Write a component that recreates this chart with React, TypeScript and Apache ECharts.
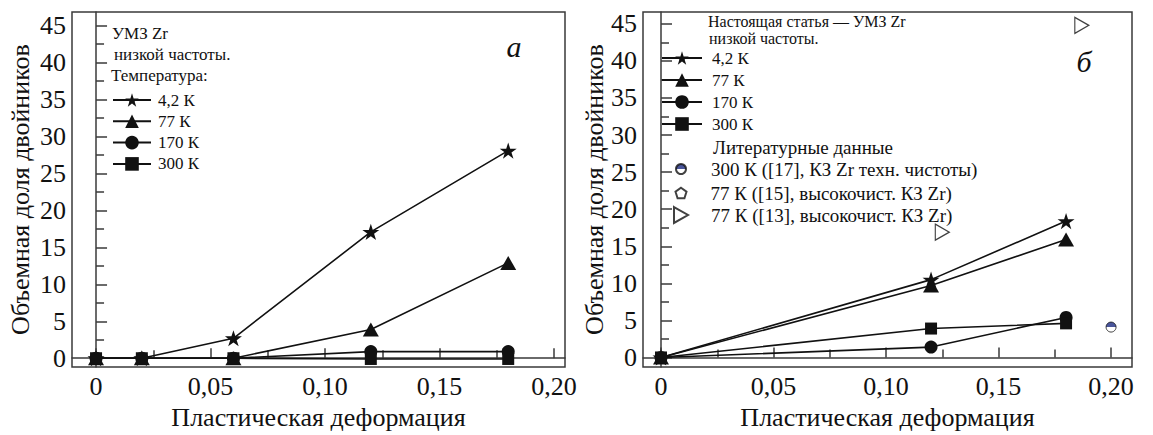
import React, { useEffect, useRef } from "react";
import * as echarts from "echarts";

// ---------- data ----------
const xTicks = [0, 0.05, 0.1, 0.15, 0.2];
const xMinorTicks = [0.025, 0.075, 0.125, 0.175];
const yTicks = [0, 5, 10, 15, 20, 25, 30, 35, 40, 45];
const yMinorTicks = [2.5, 7.5, 12.5, 17.5, 22.5, 27.5, 32.5, 37.5, 42.5];

const tempNames = ["4,2 К", "77 К", "170 К", "300 К"];

// panel a
const strainA = [0, 0.02, 0.06, 0.12, 0.18];
const a42 = [0, 0, 2.7, 17.1, 28.1];
const a77 = [0, 0, 0, 3.9, 12.9];
const a170 = [0, 0, 0, 0.9, 0.9];
const a300 = [0, 0, 0, -0.1, -0.1];

// panel б
const strainB = [0, 0.12, 0.18];
const b42 = [0, 10.5, 18.4];
const b77 = [0, 9.7, 15.9];
const b170 = [0, 1.4, 5.4];
const b300 = [0, 3.9, 4.6];

// literature data (panel б)
const litNames = [
  "300 К ([17], КЗ Zr техн. чистоты)",
  "77 К ([15], высокочист. КЗ Zr)",
  "77 К ([13], высокочист. КЗ Zr)",
];
const lit17X = [0.2];
const lit17Y = [4.1];
const lit15X: number[] = [];
const lit15Y: number[] = [];
const lit13X = [0.125, 0.187];
const lit13Y = [16.9, 44.8];

// ---------- styles ----------
const FONT = "'Liberation Serif', 'Times New Roman', serif";
const INK = "#111";
const FRAME = "#3a3a3a";

const STAR =
  "path://M50,2 L61.2,36.6 L97.6,36.6 L68.2,58 L79.4,92.6 L50,71.2 L20.6,92.6 L31.8,58 L2.4,36.6 L38.8,36.6 Z";
const PENTA = "path://M50,5 L95,38 L78,92 L22,92 L5,38 Z";
const RTRI = "path://M0,0 L88,50 L0,100 Z";

const symbols = [STAR, "triangle", "circle", "rect"];
const symbolSizes: any[] = [17, [16, 14], 13, 12];

const zip = (xs: number[], ys: number[]) => xs.map((x, i) => [x, ys[i]]);

const fmtX = (v: number) => (v === 0 ? "0" : v.toFixed(2).replace(".", ","));

function majorX(gridIndex: number, min: number, max: number) {
  return {
    type: "value",
    gridIndex,
    min,
    max,
    position: "bottom",
    axisLine: { show: true, lineStyle: { color: FRAME, width: 1.5 } },
    axisTick: {
      show: true,
      inside: true,
      length: 10,
      customValues: xTicks,
      lineStyle: { color: FRAME, width: 1.5 },
    },
    axisLabel: {
      show: true,
      customValues: xTicks,
      formatter: fmtX,
      fontSize: 26,
      fontFamily: FONT,
      color: INK,
      margin: 6,
    },
    splitLine: { show: false },
    name: "Пластическая деформация",
    nameLocation: "middle",
    nameGap: 30,
    nameTextStyle: { fontSize: 26, fontFamily: FONT, color: INK },
  };
}
function minorX(gridIndex: number, min: number, max: number) {
  return {
    type: "value",
    gridIndex,
    min,
    max,
    position: "bottom",
    axisLine: { show: false },
    axisTick: {
      show: true,
      inside: true,
      length: 8,
      customValues: xMinorTicks,
      lineStyle: { color: FRAME, width: 1.5 },
    },
    axisLabel: { show: false },
    splitLine: { show: false },
  };
}
function majorY(gridIndex: number, min: number, max: number, nameGap: number) {
  return {
    type: "value",
    gridIndex,
    min,
    max,
    position: "left",
    axisLine: { show: true, lineStyle: { color: FRAME, width: 1.5 } },
    axisTick: {
      show: true,
      inside: true,
      length: 11,
      customValues: yTicks,
      lineStyle: { color: FRAME, width: 1.5 },
    },
    axisLabel: {
      show: true,
      customValues: yTicks,
      fontSize: 26,
      fontFamily: FONT,
      color: INK,
      margin: 6,
    },
    splitLine: { show: false },
    name: "Объемная доля двойников",
    nameLocation: "middle",
    nameRotate: 90,
    nameGap,
    nameTextStyle: { fontSize: 26, fontFamily: FONT, color: INK },
  };
}
function minorY(gridIndex: number, min: number, max: number) {
  return {
    type: "value",
    gridIndex,
    min,
    max,
    position: "left",
    axisLine: { show: false },
    axisTick: {
      show: true,
      inside: true,
      length: 8,
      customValues: yMinorTicks,
      lineStyle: { color: FRAME, width: 1.5 },
    },
    axisLabel: { show: false },
    splitLine: { show: false },
  };
}

function lineSeries(name: string, idx: number, xAxisIndex: number, data: number[][]) {
  return {
    name,
    type: "line",
    xAxisIndex,
    yAxisIndex: xAxisIndex,
    data,
    symbol: symbols[idx],
    symbolSize: symbolSizes[idx],
    symbolKeepAspect: true,
    lineStyle: { color: INK, width: 1.6 },
    itemStyle: { color: INK },
    z: 3,
  };
}

const legendBase = {
  orient: "vertical",
  padding: 0,
  selectedMode: false,
};

function litLegend(name: string, left: number, top: number, w: number, h: number, pad: number) {
  return {
    ...legendBase,
    data: [name],
    left,
    top,
    itemWidth: w,
    itemHeight: h,
    itemGap: 0,
    textStyle: {
      fontSize: 19,
      fontFamily: FONT,
      color: INK,
      lineHeight: 19,
      padding: [0, 0, 0, pad],
    },
  };
}

export default function App() {
  const ref = useRef<HTMLDivElement>(null);

  useEffect(() => {
    if (!ref.current) return;
    const chart = echarts.init(ref.current, undefined, { renderer: "svg" });

    const aSeries = [a42, a77, a170, a300].map((ys, i) =>
      lineSeries(tempNames[i], i, 0, zip(strainA, ys))
    );
    const bSeries = [b42, b77, b170, b300].map((ys, i) =>
      lineSeries(tempNames[i], i, 2, zip(strainB, ys))
    );

    const litSeries = [
      {
        name: litNames[0],
        type: "scatter",
        xAxisIndex: 2,
        yAxisIndex: 2,
        data: zip(lit17X, lit17Y),
        symbol: "circle",
        symbolSize: 10,
        itemStyle: {
          color: {
            type: "linear",
            x: 0,
            y: 0,
            x2: 0,
            y2: 1,
            colorStops: [
              { offset: 0, color: "#1c2a80" },
              { offset: 0.5, color: "#1c2a80" },
              { offset: 0.5, color: "#ffffff" },
              { offset: 1, color: "#ffffff" },
            ],
          },
          borderColor: INK,
          borderWidth: 1,
        },
        z: 4,
      },
      {
        name: litNames[1],
        type: "scatter",
        xAxisIndex: 2,
        yAxisIndex: 2,
        data: zip(lit15X, lit15Y),
        symbol: PENTA,
        symbolSize: 10,
        symbolKeepAspect: true,
        itemStyle: { color: "#ffffff", borderColor: INK, borderWidth: 1.2 },
        z: 4,
      },
      {
        name: litNames[2],
        type: "scatter",
        xAxisIndex: 2,
        yAxisIndex: 2,
        data: zip(lit13X, lit13Y),
        symbol: RTRI,
        symbolSize: [14, 16],
        itemStyle: { color: "#ffffff", borderColor: INK, borderWidth: 1.2 },
        z: 4,
      },
    ];

    const txt = (text: string, x: number, y: number, fontSize: number, extra: any = {}) => ({
      type: "text",
      x,
      y,
      silent: true,
      style: {
        text,
        fontSize,
        fontFamily: FONT,
        fill: INK,
        verticalAlign: "middle",
        align: "left",
        ...extra,
      },
    });

    chart.setOption({
      animation: false,
      backgroundColor: "#ffffff",
      grid: [
        {
          left: 72,
          right: 588,
          top: 12,
          bottom: 57,
          show: true,
          borderColor: FRAME,
          borderWidth: 1.5,
          backgroundColor: "transparent",
        },
        {
          left: 643,
          right: 21,
          top: 12,
          bottom: 57,
          show: true,
          borderColor: FRAME,
          borderWidth: 1.5,
          backgroundColor: "transparent",
        },
      ],
      xAxis: [
        majorX(0, -0.0105, 0.2048),
        minorX(0, -0.0105, 0.2048),
        majorX(1, -0.008, 0.2093),
        minorX(1, -0.008, 0.2093),
      ],
      yAxis: [
        majorY(0, -1.2, 46.85, 39),
        minorY(0, -1.2, 46.85),
        majorY(1, -1.3, 46.6, 33),
        minorY(1, -1.3, 46.6),
      ],
      legend: [
        {
          ...legendBase,
          data: tempNames,
          left: 112,
          top: 91.5,
          itemWidth: 38,
          itemHeight: 17,
          itemGap: 4.3,
          textStyle: {
            fontSize: 17,
            fontFamily: FONT,
            color: INK,
            lineHeight: 17,
            padding: [0, 0, 0, 2],
          },
        },
        {
          ...legendBase,
          data: tempNames,
          left: 661,
          top: 49.5,
          itemWidth: 40,
          itemHeight: 17,
          itemGap: 5,
          textStyle: {
            fontSize: 17,
            fontFamily: FONT,
            color: INK,
            lineHeight: 17,
            padding: [0, 0, 0, 5],
          },
        },
        litLegend(litNames[0], 675, 159.5, 10, 10, 20),
        litLegend(litNames[1], 674.5, 183.5, 11, 11, 19),
        litLegend(litNames[2], 673, 205.5, 14, 16, 18),
      ],
      graphic: [
        txt("УМЗ Zr", 112, 33, 17),
        txt("низкой частоты.", 114, 54, 17),
        txt("Температура:", 111, 75, 17),
        txt("Настоящая статья — УМЗ Zr", 708, 21, 16),
        txt("низкой частоты.", 709, 38, 16),
        txt("Литературные данные", 713, 147, 19),
        txt("a", 514, 46, 30, { fontStyle: "italic", align: "center" }),
        txt("б", 1084, 61, 30, { fontStyle: "italic", align: "center" }),
      ],
      series: [...aSeries, ...bSeries, ...litSeries],
    });

    return () => {
      chart.dispose();
    };
  }, []);

  return (
    <div
      ref={ref}
      style={{ position: "absolute", left: 0, top: 0, width: 1153, height: 435 }}
    />
  );
}
